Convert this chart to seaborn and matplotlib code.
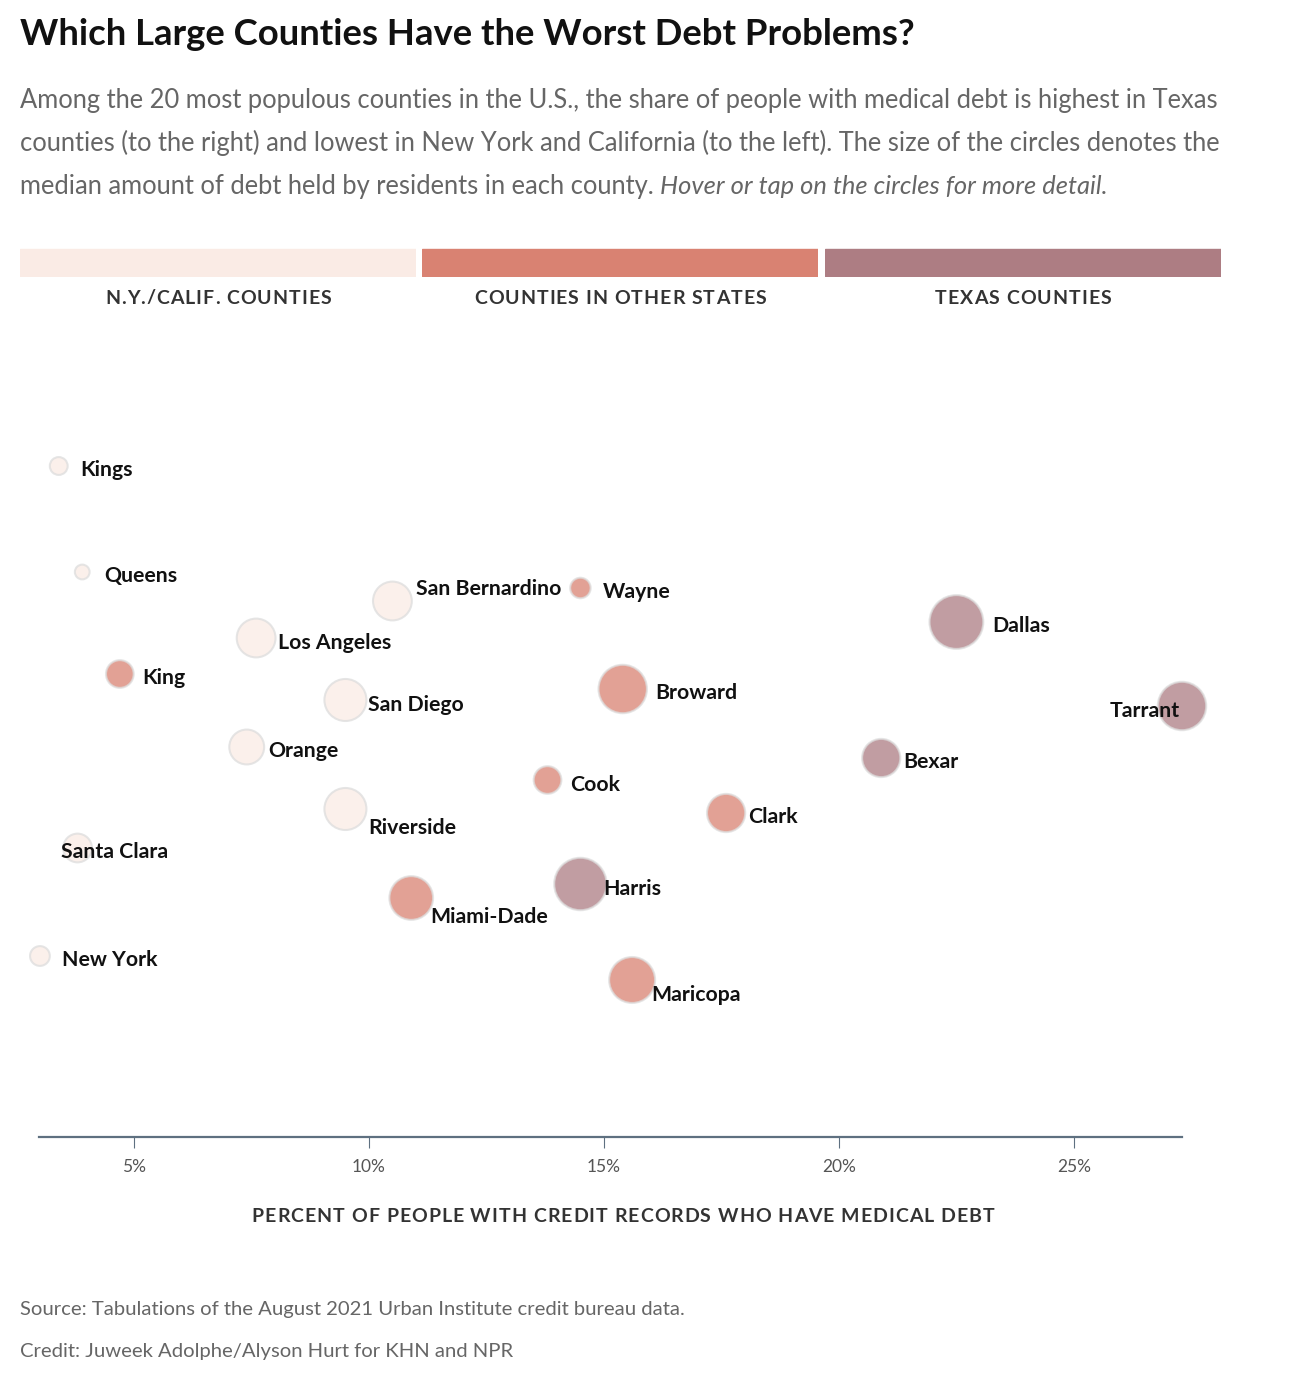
import matplotlib
matplotlib.use("Agg")
import matplotlib.pyplot as plt
import seaborn as sns
import pandas as pd

sns.set_style("white")
plt.rcParams['font.family'] = ['Lato', 'DejaVu Sans']

W, H = 1312, 1394

# --- data ---
counties = ['Kings', 'Queens', 'King', 'Los Angeles', 'San Bernardino', 'Wayne',
            'San Diego', 'Orange', 'Cook', 'Riverside', 'Santa Clara', 'New York',
            'Miami-Dade', 'Harris', 'Maricopa', 'Broward', 'Clark', 'Bexar',
            'Dallas', 'Tarrant']
groups = ['nyca', 'nyca', 'other', 'nyca', 'nyca', 'other',
          'nyca', 'nyca', 'other', 'nyca', 'nyca', 'nyca',
          'other', 'texas', 'other', 'other', 'other', 'texas',
          'texas', 'texas']
pct_medical_debt = [3.4, 3.9, 4.7, 7.6, 10.5, 14.5,
                    9.5, 7.4, 13.8, 9.5, 3.8, 3.0,
                    10.9, 14.5, 15.6, 15.4, 17.6, 20.9,
                    22.5, 27.3]
# median medical debt (sets circle area)
median_debt = [110, 75, 265, 520, 520, 145,
               610, 420, 265, 610, 285, 135,
               660, 950, 730, 810, 505, 505,
               1000, 810]
# vertical position from the force layout (height above the axis)
swarm_y = [671, 565, 463, 499, 536, 549,
           437, 390, 357, 328, 289, 181,
           239, 253, 157, 448, 324, 379,
           515, 431]

group_names = ['N.Y./CALIF. COUNTIES', 'COUNTIES IN OTHER STATES', 'TEXAS COUNTIES']
group_keys = ['nyca', 'other', 'texas']
group_colors = {'nyca': '#faebe5', 'other': '#d98272', 'texas': '#ad7d83'}

df = pd.DataFrame({'county': counties, 'group': groups, 'pct': pct_medical_debt,
                   'debt': median_debt, 'y': swarm_y})

# label offsets in pixels (dx, dy up) and alignment
label_pos = {
    'Santa Clara': (-17, -4, 'left'), 'Tarrant': (-2, -5, 'right'),
    'San Bernardino': (24, 12, 'left'), 'Riverside': (23, -19, 'left'),
    'Miami-Dade': (19, -19, 'left'), 'Maricopa': (19, -15, 'left'),
    'Broward': (33, -4, 'left'), 'Dallas': (36, -4, 'left'),
    'Los Angeles': (22, -5, 'left'), 'San Diego': (23, -5, 'left'),
    'Harris': (23, -5, 'left'), 'Cook': (23, -5, 'left'),
}

fig = plt.figure(figsize=(W / 100, H / 100), dpi=100)
r = fig.canvas.get_renderer()


def px(x, y):
    return x / W, 1 - y / H


def spaced_text(x, y, s, spacing, **kw):
    # centred text with letter spacing (pixels)
    widths = []
    for ch in s:
        t = fig.text(0, 0, ch if ch != ' ' else 'a', **kw)
        w = t.get_window_extent(renderer=r).width
        if ch == ' ':
            t2 = fig.text(0, 0, 'a a', **kw)
            w = t2.get_window_extent(renderer=r).width - 2 * w
            t2.remove()
        widths.append(w)
        t.remove()
    total = sum(widths) + spacing * (len(s) - 1)
    cx = x - total / 2
    for ch, w in zip(s, widths):
        if ch != ' ':
            fig.text(*px(cx, y), ch, va='center', ha='left', **kw)
        cx += w + spacing


# title and intro
fig.text(*px(20, 45), 'Which Large Counties Have the Worst Debt Problems?',
         fontsize=26.3, fontweight='bold', color='#111111', va='baseline')
sub = dict(fontsize=18.4, color='#666666', va='baseline')
fig.text(*px(20, 108), 'Among the 20 most populous counties in the U.S., the share of people '
         'with medical debt is highest in Texas', **sub)
fig.text(*px(20, 151), 'counties (to the right) and lowest in New York and California '
         '(to the left). The size of the circles denotes the', **sub)
t3 = fig.text(*px(20, 194), 'median amount of debt held by residents in each county. ', **sub)
bb = t3.get_window_extent(renderer=r)
fig.text(bb.x1 / W, 1 - 194 / H, 'Hover or tap on the circles for more detail.',
         style='italic', **sub)

# colour key
key_x = [20, 422, 825]
for kx, name, key in zip(key_x, group_names, group_keys):
    kax = fig.add_axes([kx / W, 1 - 277 / H, 396 / W, 29 / H])
    kax.axhspan(0, 1, color=group_colors[key])
    kax.set_axis_off()
    spaced_text(kx + 198, 298, name, 1.0, fontsize=14, fontweight='bold', color='#333333')

# main plot
ax = fig.add_axes([39 / W, 1 - 1137 / H, (1182 - 39) / W, (1137 - 330) / H])
sns.scatterplot(data=df, x='pct', y='y', hue='group', palette=group_colors,
                size='debt', sizes=(0, 1500), size_norm=(0, 1000), alpha=0.75,
                edgecolor='#dddddd', linewidth=1.5, legend=False, ax=ax, zorder=3,
                clip_on=False)

for name, x, y in zip(counties, pct_medical_debt, swarm_y):
    dx, dy, ha = label_pos.get(name, (22, -4, 'left'))
    ax.annotate(name, (x, y), xytext=(dx, dy), textcoords='offset pixels',
                ha=ha, va='center', fontsize=15.3, fontweight='bold', color='#111111',
                zorder=5, annotation_clip=False)

ax.set_xlim(2.98, 27.3)
ax.set_ylim(0, 807)
ax.set_xticks([5, 10, 15, 20, 25])
ax.set_xticklabels(['5%', '10%', '15%', '20%', '25%'])
ax.set_yticks([])
for s in ['top', 'right', 'left']:
    ax.spines[s].set_visible(False)
ax.spines['bottom'].set_color('#5e7080')
ax.spines['bottom'].set_linewidth(1.6)
ax.tick_params(axis='x', length=8, width=0.8, color='#5e7080', labelsize=12.5,
               labelcolor='#555555', pad=8, bottom=True)
ax.set_xlabel('')
ax.set_ylabel('')
ax.patch.set_alpha(0)

spaced_text(623, 1216, 'PERCENT OF PEOPLE WITH CREDIT RECORDS WHO HAVE MEDICAL DEBT', 1.0,
            fontsize=14, fontweight='bold', color='#333333')

fig.text(*px(20, 1310), 'Source: Tabulations of the August 2021 Urban Institute credit bureau data.',
         va='center', fontsize=14.6, color='#666666')
fig.text(*px(20, 1352), 'Credit: Juweek Adolphe/Alyson Hurt for KHN and NPR',
         va='center', fontsize=14.6, color='#666666')

fig.savefig('out.png', dpi=100, facecolor='white')
